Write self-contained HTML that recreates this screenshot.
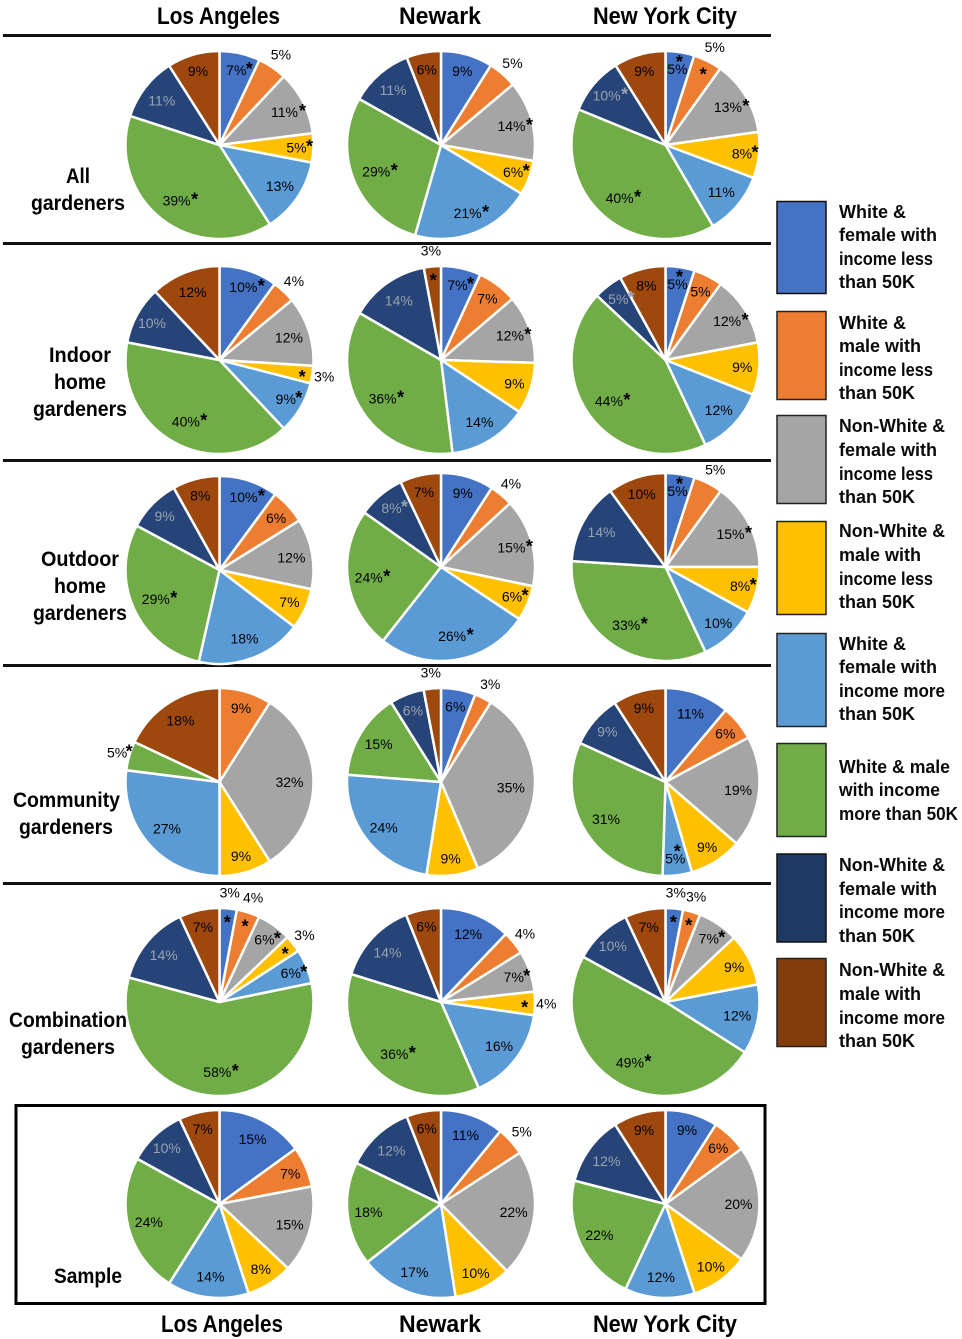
<!DOCTYPE html>
<html lang="en">
<head>
<meta charset="utf-8">
<title>Gardener demographics by city</title>
<style>
html,body{margin:0;padding:0;background:#fff}
svg{display:block}
text{font-family:"Liberation Sans",sans-serif}
.head{font-size:24px;font-weight:700;text-anchor:middle;fill:#000}
.row{font-size:21px;font-weight:700;text-anchor:middle;fill:#000}
.leg{font-size:18px;font-weight:700;fill:#0a0a0a}
</style>
</head>
<body>
<svg id="chart" width="962" height="1339" viewBox="0 0 962 1339" xmlns="http://www.w3.org/2000/svg">
  <text class="head" x="218.500" y="24" textLength="123" lengthAdjust="spacingAndGlyphs">Los Angeles</text>
  <text class="head" x="440" y="24" textLength="82" lengthAdjust="spacingAndGlyphs">Newark</text>
  <text class="head" x="665" y="24" textLength="144" lengthAdjust="spacingAndGlyphs">New York City</text>

  <rect x="3" y="34" width="768" height="3" fill="#111"/>
  <rect x="3" y="242" width="768" height="3" fill="#111"/>
  <rect x="3" y="459" width="768" height="3" fill="#111"/>
  <rect x="3" y="664" width="768" height="3" fill="#111"/>
  <rect x="3" y="882" width="768" height="3" fill="#111"/>
  <rect x="16" y="1105.500" width="749" height="198" fill="none" stroke="#000" stroke-width="3"/>

  <g>
    <text class="row" x="78" y="183" textLength="24" lengthAdjust="spacingAndGlyphs">All</text>
    <text class="row" x="78" y="210" textLength="94" lengthAdjust="spacingAndGlyphs">gardeners</text>
  </g>
  <g>
    <text class="row" x="80" y="362" textLength="62" lengthAdjust="spacingAndGlyphs">Indoor</text>
    <text class="row" x="80" y="389" textLength="52" lengthAdjust="spacingAndGlyphs">home</text>
    <text class="row" x="80" y="416" textLength="94" lengthAdjust="spacingAndGlyphs">gardeners</text>
  </g>
  <g>
    <text class="row" x="80" y="566" textLength="78" lengthAdjust="spacingAndGlyphs">Outdoor</text>
    <text class="row" x="80" y="593" textLength="52" lengthAdjust="spacingAndGlyphs">home</text>
    <text class="row" x="80" y="620" textLength="94" lengthAdjust="spacingAndGlyphs">gardeners</text>
  </g>
  <g>
    <text class="row" x="66.500" y="807" textLength="107" lengthAdjust="spacingAndGlyphs">Community</text>
    <text class="row" x="66" y="834" textLength="94" lengthAdjust="spacingAndGlyphs">gardeners</text>
  </g>
  <g>
    <text class="row" x="68" y="1027" textLength="118" lengthAdjust="spacingAndGlyphs">Combination</text>
    <text class="row" x="68" y="1054" textLength="94" lengthAdjust="spacingAndGlyphs">gardeners</text>
  </g>
  <text class="row" x="88" y="1283" textLength="68" lengthAdjust="spacingAndGlyphs">Sample</text>

  <g id="pies"></g>

  <text class="head" x="222" y="1332" textLength="122" lengthAdjust="spacingAndGlyphs">Los Angeles</text>
  <text class="head" x="440" y="1332" textLength="82" lengthAdjust="spacingAndGlyphs">Newark</text>
  <text class="head" x="665" y="1332" textLength="144" lengthAdjust="spacingAndGlyphs">New York City</text>

  <g>
    <g>
      <rect x="777" y="201.500" width="49" height="92" fill="#4472c4" stroke="#111" stroke-width="1.500"/>
      <text class="leg" x="839" y="218">White &amp;</text>
      <text class="leg" x="839" y="241">female with</text>
      <text class="leg" x="839" y="265" textLength="94" lengthAdjust="spacingAndGlyphs">income less</text>
      <text class="leg" x="839" y="288">than 50K</text>
    </g>
    <g>
      <rect x="777" y="311.500" width="49" height="88" fill="#ed7d31" stroke="#222" stroke-width="1.500"/>
      <text class="leg" x="839" y="329">White &amp;</text>
      <text class="leg" x="839" y="352">male with</text>
      <text class="leg" x="839" y="376" textLength="94" lengthAdjust="spacingAndGlyphs">income less</text>
      <text class="leg" x="839" y="399">than 50K</text>
    </g>
    <g>
      <rect x="777" y="415.500" width="49" height="88" fill="#a5a5a5" stroke="#222" stroke-width="1.500"/>
      <text class="leg" x="839" y="432" textLength="106" lengthAdjust="spacingAndGlyphs">Non-White &amp;</text>
      <text class="leg" x="839" y="456">female with</text>
      <text class="leg" x="839" y="480" textLength="94" lengthAdjust="spacingAndGlyphs">income less</text>
      <text class="leg" x="839" y="503">than 50K</text>
    </g>
    <g>
      <rect x="777" y="521.500" width="49" height="93" fill="#ffc000" stroke="#222" stroke-width="1.500"/>
      <text class="leg" x="839" y="537" textLength="106" lengthAdjust="spacingAndGlyphs">Non-White &amp;</text>
      <text class="leg" x="839" y="561">male with</text>
      <text class="leg" x="839" y="585" textLength="94" lengthAdjust="spacingAndGlyphs">income less</text>
      <text class="leg" x="839" y="608">than 50K</text>
    </g>
    <g>
      <rect x="777" y="633.500" width="49" height="93" fill="#5b9bd5" stroke="#222" stroke-width="1.500"/>
      <text class="leg" x="839" y="650">White &amp;</text>
      <text class="leg" x="839" y="673">female with</text>
      <text class="leg" x="839" y="697" textLength="106" lengthAdjust="spacingAndGlyphs">income more</text>
      <text class="leg" x="839" y="720">than 50K</text>
    </g>
    <g>
      <rect x="777" y="743.500" width="49" height="93" fill="#70ad47" stroke="#222" stroke-width="1.500"/>
      <text class="leg" x="839" y="773" textLength="111" lengthAdjust="spacingAndGlyphs">White &amp; male</text>
      <text class="leg" x="839" y="796" textLength="101" lengthAdjust="spacingAndGlyphs">with income</text>
      <text class="leg" x="839" y="820" textLength="119" lengthAdjust="spacingAndGlyphs">more than 50K</text>
    </g>
    <g>
      <rect x="777" y="854" width="49" height="88" fill="#1f3864" stroke="#111" stroke-width="1.500"/>
      <text class="leg" x="839" y="871" textLength="106" lengthAdjust="spacingAndGlyphs">Non-White &amp;</text>
      <text class="leg" x="839" y="895">female with</text>
      <text class="leg" x="839" y="918" textLength="106" lengthAdjust="spacingAndGlyphs">income more</text>
      <text class="leg" x="839" y="942">than 50K</text>
    </g>
    <g>
      <rect x="777" y="958.500" width="49" height="88" fill="#843c0c" stroke="#222" stroke-width="1.500"/>
      <text class="leg" x="839" y="976" textLength="106" lengthAdjust="spacingAndGlyphs">Non-White &amp;</text>
      <text class="leg" x="839" y="1000">male with</text>
      <text class="leg" x="839" y="1024" textLength="106" lengthAdjust="spacingAndGlyphs">income more</text>
      <text class="leg" x="839" y="1047">than 50K</text>
    </g>
  </g>
</svg>
<script>
// Categories
var cities = ["los-angeles", "newark", "new-york-city"];
var groups = ["all", "indoor", "outdoor", "community", "combination", "sample"];
var segments = ["white-female-low", "white-male-low", "nonwhite-female-low", "nonwhite-male-low", "white-female-high", "white-male-high", "nonwhite-female-high", "nonwhite-male-high"];

// Percent values (segment order as above), one array per group, one row per city
var allValues = [[7,5,11,5,13,39,11,9],[9,5,14,6,21,29,11,6],[5,5,13,8,11,40,10,9]];
var indoorValues = [[10,4,12,3,9,40,10,12],[7,7,12,9,14,36,14,3],[5,5,12,9,12,44,5,8]];
var outdoorValues = [[10,6,12,7,18,29,9,8],[9,4,15,6,26,24,8,7],[5,5,15,8,10,33,14,10]];
var communityValues = [[0,9,32,9,27,5,0,18],[6,3,35,9,24,15,6,3],[11,6,19,9,5,31,9,9]];
var combinationValues = [[3,4,6,3,6,58,14,7],[12,4,7,4,16,36,14,6],[3,3,7,9,12,49,10,7]];
var sampleValues = [[15,7,15,8,14,24,10,7],[11,5,22,10,17,18,12,6],[9,6,20,10,12,22,12,9]];

// Significance flags (0 none, 1 asterisk, 2 asterisk beside an outside label)
var allStars = [[1,0,1,1,0,1,0,0],[0,0,1,1,1,1,0,0],[1,1,1,1,0,1,1,0]];
var indoorStars = [[1,0,0,1,1,1,0,0],[1,0,1,0,0,1,0,1],[1,0,1,0,0,1,1,0]];
var outdoorStars = [[1,0,0,0,0,1,0,0],[0,0,1,1,1,1,1,0],[1,0,1,1,0,1,0,0]];
var communityStars = [[0,0,0,0,0,2,0,0],[0,0,0,0,0,0,0,0],[0,0,0,0,1,0,0,0]];
var combinationStars = [[1,1,1,1,1,1,0,0],[0,0,1,1,0,1,0,0],[1,1,1,0,0,1,0,0]];
var sampleStars = [[0,0,0,0,0,0,0,0],[0,0,0,0,0,0,0,0],[0,0,0,0,0,0,0,0]];

// Whether the printed value sits outside the pie
var allOutside = [[0,1,0,0,0,0,0,0],[0,1,0,0,0,0,0,0],[0,1,0,0,0,0,0,0]];
var indoorOutside = [[0,1,0,1,0,0,0,0],[0,0,0,0,0,0,0,1],[0,0,0,0,0,0,0,0]];
var outdoorOutside = [[0,0,0,0,0,0,0,0],[0,1,0,0,0,0,0,0],[0,1,0,0,0,0,0,0]];
var communityOutside = [[0,0,0,0,0,1,0,0],[0,1,0,0,0,0,0,1],[0,0,0,0,0,0,0,0]];
var combinationOutside = [[1,1,0,1,0,0,0,0],[0,1,0,1,0,0,0,0],[1,1,0,0,0,0,0,0]];
var sampleOutside = [[0,0,0,0,0,0,0,0],[0,1,0,0,0,0,0,0],[0,0,0,0,0,0,0,0]];

var groupValues = [allValues, indoorValues, outdoorValues, communityValues, combinationValues, sampleValues];
var groupStars = [allStars, indoorStars, outdoorStars, communityStars, combinationStars, sampleStars];
var groupOutside = [allOutside, indoorOutside, outdoorOutside, communityOutside, combinationOutside, sampleOutside];

// Layout and styling (not data)
var SVGNS = "http://www.w3.org/2000/svg";
var columnCenter = { "los-angeles": 219.5, "newark": 441, "new-york-city": 665.5 };
var rowCenter = { all: 145, indoor: 360, outdoor: 567, community: 782, combination: 1002, sample: 1204 };
var segmentColor = { "white-female-low": "#4472c4", "white-male-low": "#ed7d31", "nonwhite-female-low": "#a5a5a5", "nonwhite-male-low": "#ffc000", "white-female-high": "#5b9bd5", "white-male-high": "#70ad47", "nonwhite-female-high": "#264478", "nonwhite-male-high": "#9e480e" };
var RADIUS = 94;

function angleOf(share) { return share * 2 * Math.PI; }
function pointAt(cx, cy, r, angle) { return [cx + r * Math.sin(angle), cy - r * Math.cos(angle)]; }
function labelRadius(v) { return v <= 10 ? 77 : (v <= 25 ? 73 : 70); }

function addText(parent, x, y, str, size, fill, weight) {
  var t = document.createElementNS(SVGNS, "text");
  t.setAttribute("x", x.toFixed(1));
  t.setAttribute("y", y.toFixed(1));
  t.setAttribute("text-anchor", "middle");
  t.setAttribute("font-size", size);
  t.setAttribute("fill", fill);
  if (weight) t.setAttribute("font-weight", weight);
  t.textContent = str;
  parent.appendChild(t);
  return t;
}

function drawPie(root, groupName, cityName, values, stars, outside) {
  var cx = columnCenter[cityName];
  var cy = rowCenter[groupName];
  if (groupName === "outdoor" && cityName === "los-angeles") cy += 3;
  var total = values.reduce(function (a, b) { return a + b; }, 0);
  var g = document.createElementNS(SVGNS, "g");
  
  
  root.appendChild(g);

  var cumulative = 0;
  var centers = [];
  values.forEach(function (v, i) {
    var a0 = angleOf(cumulative / total);
    cumulative += v;
    var a1 = angleOf(cumulative / total);
    centers.push((a0 + a1) / 2);
    if (v <= 0) return;
    var p0 = pointAt(cx, cy, RADIUS, a0);
    var p1 = pointAt(cx, cy, RADIUS, a1);
    var large = a1 - a0 > Math.PI ? 1 : 0;
    var path = document.createElementNS(SVGNS, "path");
    path.setAttribute("d", "M" + cx + " " + cy + "L" + p0[0].toFixed(2) + " " + p0[1].toFixed(2) + "A" + RADIUS + " " + RADIUS + " 0 " + large + " 1 " + p1[0].toFixed(2) + " " + p1[1].toFixed(2) + "Z");
    path.setAttribute("fill", segmentColor[segments[i]]);
    path.setAttribute("stroke", "#fff");
    path.setAttribute("stroke-width", "2.5");
    path.setAttribute("stroke-linejoin", "round");
    
    
    g.appendChild(path);
  });

  values.forEach(function (v, i) {
    if (v <= 0) return;
    var a = centers[i];
    var isNavy = segments[i] === "nonwhite-female-high";
    var fill = isNavy ? "#9aa3ad" : "#000";
    var labelG = document.createElementNS(SVGNS, "g");
    
    
    g.appendChild(labelG);
    var str = v + "%";
    if (outside[i]) {
      var po = pointAt(cx, cy, RADIUS * (1.12 + 0.05 * Math.abs(Math.cos(a))), a);
      addText(labelG, po[0], po[1] + 5, str, 14, "#000");
      if (stars[i] === 1) {
        var ps = pointAt(cx, cy, RADIUS * 0.89, a);
        addText(labelG, ps[0], ps[1] + 10, "*", 18, "#000", 700);
      } else if (stars[i] === 2) {
        addText(labelG, po[0] + 12, po[1] + 5, "*", 18, "#000", 700);
      }
      return;
    }
    var pi = pointAt(cx, cy, labelRadius(v), a);
    addText(labelG, pi[0], pi[1] + 5, str, 14, fill);
    if (stars[i]) {
      if (v <= 6 && Math.abs(Math.sin(a)) < 0.3) {
        addText(labelG, pi[0] + 2, pi[1] - 1, "*", 18, fill, 700);
      } else {
        addText(labelG, pi[0] + (v < 10 ? 13 : 18), pi[1] + 5, "*", 18, fill, 700);
      }
    }
  });
}

var piesRoot = document.getElementById("pies");
groups.forEach(function (groupName, r) {
  cities.forEach(function (cityName, c) {
    drawPie(piesRoot, groupName, cityName, groupValues[r][c], groupStars[r][c], groupOutside[r][c]);
  });
});
</script>
</body>
</html>
